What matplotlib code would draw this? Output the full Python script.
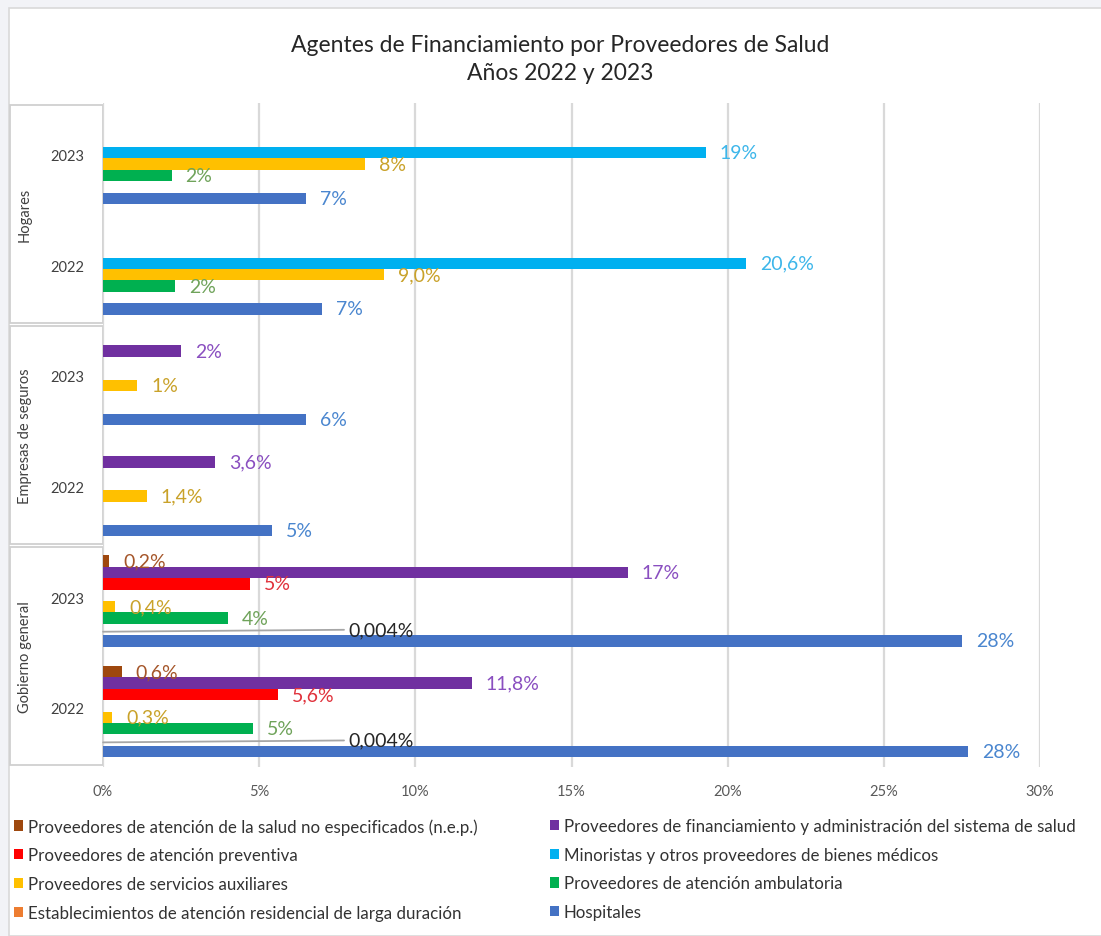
import numpy as np
import matplotlib.pyplot as plt
from matplotlib.patches import Rectangle
from matplotlib.transforms import blended_transform_factory

plt.rcParams['font.family'] = ['Lato', 'DejaVu Sans']

W, H = 1101, 937

# categories, bottom to top
groups = ['Gobierno general', 'Empresas de seguros', 'Hogares']
years = ['2022', '2023', '2022', '2023', '2022', '2023']

nan = np.nan
# one list per series, same order as the categories (bottom slot = first series)
hospitales = [27.7, 27.5, 5.4, 6.5, 7.0, 6.5]
residencial = [0.004, 0.004, nan, nan, nan, nan]
ambulatoria = [4.8, 4.0, nan, nan, 2.3, 2.2]
auxiliares = [0.3, 0.4, 1.4, 1.1, 9.0, 8.4]
minoristas = [nan, nan, nan, nan, 20.6, 19.3]
preventiva = [5.6, 4.7, nan, nan, nan, nan]
financiamiento = [11.8, 16.8, 3.6, 2.5, nan, nan]
nep = [0.6, 0.2, nan, nan, nan, nan]

lbl_hospitales = ['28%', '28%', '5%', '6%', '7%', '7%']
lbl_residencial = ['0,004%', '0,004%', '', '', '', '']
lbl_ambulatoria = ['5%', '4%', '', '', '2%', '2%']
lbl_auxiliares = ['0,3%', '0,4%', '1,4%', '1%', '9,0%', '8%']
lbl_minoristas = ['', '', '', '', '20,6%', '19%']
lbl_preventiva = ['5,6%', '5%', '', '', '', '']
lbl_financiamiento = ['11,8%', '17%', '3,6%', '2%', '', '']
lbl_nep = ['0,6%', '0,2%', '', '', '', '']

series = [
    ('Hospitales', hospitales, lbl_hospitales, '#4472C4', '#4A86CF'),
    ('Establecimientos de atención residencial de larga duración', residencial, lbl_residencial, '#ED7D31', '#262626'),
    ('Proveedores de atención ambulatoria', ambulatoria, lbl_ambulatoria, '#00B050', '#6FA35A'),
    ('Proveedores de servicios auxiliares', auxiliares, lbl_auxiliares, '#FFC000', '#C9A22A'),
    ('Minoristas y otros proveedores de bienes médicos', minoristas, lbl_minoristas, '#00B0F0', '#3DB6EA'),
    ('Proveedores de atención preventiva', preventiva, lbl_preventiva, '#FF0000', '#E0323C'),
    ('Proveedores de financiamiento y administración del sistema de salud', financiamiento, lbl_financiamiento, '#7030A0', '#8A4FC0'),
    ('Proveedores de atención de la salud no especificados (n.e.p.)', nep, lbl_nep, '#9E480E', '#A5562A'),
]

fig = plt.figure(figsize=(W / 100, H / 100), dpi=100, facecolor='#F2F3F7')
fig.add_artist(Rectangle((9 / W, 0), 1, 1 - 9 / H, transform=fig.transFigure,
                         facecolor='white', edgecolor='#D9D9D9', lw=1.2, zorder=0))

ax = fig.add_axes([103 / W, 1 - 768 / H, (1040 - 103) / W, (768 - 104) / H])
ax.set_facecolor('none')

ypos = np.arange(len(years))
slot = 0.103
handles = {}
for k, (name, vals, lbls, col, lcol) in enumerate(series):
    vals = np.array(vals, dtype=float)
    off = (k - 3.5) * slot
    m = ~np.isnan(vals)
    b = ax.barh(ypos[m] + off, vals[m], height=slot, color=col, zorder=3)
    handles[name] = b
    for y, v, t in zip(ypos[m] + off, vals[m], np.array(lbls)[m]):
        if name.startswith('Establecimientos'):
            ax.annotate(t, xy=(v, y - 0.02), xytext=(7.85, y), va='center', ha='left',
                        fontsize=14, color=lcol, zorder=5,
                        arrowprops=dict(arrowstyle='-', color='#A6A6A6', lw=1.3,
                                        shrinkA=1, shrinkB=0))
        else:
            ax.annotate(t, xy=(v, y), xytext=(10, 0), textcoords='offset points',
                        va='center', ha='left', fontsize=14, color=lcol, zorder=5)

ax.set_xlim(0, 30)
ax.set_ylim(-0.5, 5.5)
ax.set_xticks(range(0, 31, 5))
ax.set_xticklabels([f'{t}%' for t in range(0, 31, 5)])
ax.set_yticks([])
ax.tick_params(axis='x', length=0, pad=12, labelsize=10.5, labelcolor='#595959')
ax.grid(axis='x', color='#D9D9D9', lw=1.6, zorder=0)
for s in ax.spines.values():
    s.set_visible(False)

# multi-level category axis
tr = blended_transform_factory(ax.transAxes, ax.transData)
x_left = (10 - 103) / (1040 - 103)
for g, name in enumerate(groups):
    y0 = 2 * g - 0.5
    ax.add_patch(Rectangle((x_left, y0 + 0.015), -x_left, 1.97, transform=tr,
                           facecolor='white', edgecolor='#D0D0D0', lw=1.3, clip_on=False, zorder=1))
    ax.text((25 - 103) / (1040 - 103), y0 + 1, name, transform=tr, rotation=90,
            ha='center', va='center', fontsize=10.5, color='#404040')
for y, t in zip(ypos, years):
    ax.text((67 - 103) / (1040 - 103), y + 0.02, t, transform=tr, ha='center', va='center',
            fontsize=10.5, color='#404040')

fig.text(560 / W, 1 - 45 / H, 'Agentes de Financiamiento por Proveedores de Salud',
         ha='center', va='center', fontsize=16.5, color='#262626')
fig.text(560 / W, 1 - 73 / H, 'Años 2022 y 2023', ha='center', va='center',
         fontsize=16.5, color='#262626')

left_col = [series[7][0], series[5][0], series[3][0], series[1][0]]
right_col = [series[6][0], series[4][0], series[2][0], series[0][0]]
for names, x in [(left_col, 14), (right_col, 550)]:
    leg = fig.legend([handles[n] for n in names], names, loc='upper left',
                     bbox_to_anchor=(x / W, 1 - 819 / H), frameon=False, fontsize=12.2,
                     handlelength=0.55, handleheight=0.55, handletextpad=0.25,
                     labelspacing=0.75, borderpad=0, borderaxespad=0)
    for t in leg.get_texts():
        t.set_color('#333333')

fig.savefig('out.png', dpi=100, facecolor=fig.get_facecolor())
